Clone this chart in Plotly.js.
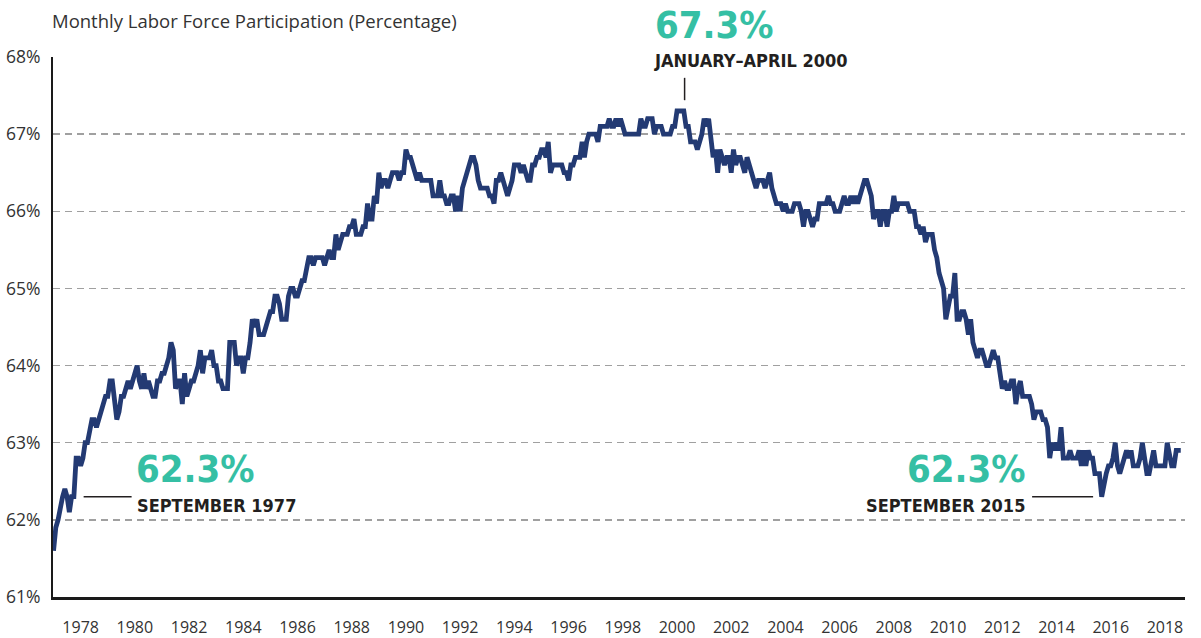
<!DOCTYPE html>
<html>
<head>
<meta charset="utf-8">
<script src="https://cdn.plot.ly/plotly-3.0.1.min.js"></script>
<style>html,body{margin:0;padding:0;background:#fff;}#chart{width:1201px;height:638px;}</style>
</head>
<body>
<div id="chart"></div>
<script>
// Monthly labor force participation rate (%), starting January 1977
const startYear = 1977;
const monthlyRate = [
  61.6, 61.9, 62.0, 62.2, 62.3, 62.4, 62.3, 62.1, 62.3, 62.3, 62.8, 62.8, // 1977
  62.7, 62.8, 63.0, 63.0, 63.2, 63.3, 63.3, 63.2, 63.3, 63.4, 63.5, 63.6, // 1978
  63.6, 63.8, 63.8, 63.5, 63.3, 63.4, 63.6, 63.6, 63.7, 63.8, 63.7, 63.8, // 1979
  63.9, 64.0, 63.8, 63.7, 63.9, 63.7, 63.8, 63.7, 63.6, 63.6, 63.8, 63.8, // 1980
  63.9, 63.9, 64.0, 64.1, 64.3, 64.2, 63.7, 63.8, 63.8, 63.5, 63.9, 63.6, // 1981
  63.7, 63.8, 63.8, 63.9, 64.0, 64.2, 63.9, 64.1, 64.1, 64.1, 64.2, 64.0, // 1982
  64.0, 63.8, 63.8, 63.7, 63.7, 63.7, 64.3, 64.3, 64.3, 64.0, 64.1, 64.1, // 1983
  63.9, 64.1, 64.1, 64.3, 64.6, 64.5, 64.6, 64.4, 64.4, 64.4, 64.5, 64.6, // 1984
  64.7, 64.7, 64.9, 64.9, 64.8, 64.6, 64.6, 64.6, 64.9, 65.0, 65.0, 64.9, // 1985
  64.9, 65.0, 65.1, 65.1, 65.3, 65.4, 65.4, 65.3, 65.4, 65.4, 65.4, 65.4, // 1986
  65.3, 65.4, 65.5, 65.4, 65.4, 65.7, 65.5, 65.6, 65.7, 65.7, 65.7, 65.8, // 1987
  65.8, 65.9, 65.7, 65.7, 65.7, 65.8, 65.8, 66.1, 65.9, 65.9, 66.2, 66.1, // 1988
  66.5, 66.3, 66.4, 66.4, 66.3, 66.4, 66.5, 66.5, 66.5, 66.4, 66.5, 66.5, // 1989
  66.8, 66.7, 66.7, 66.6, 66.5, 66.4, 66.5, 66.4, 66.4, 66.4, 66.4, 66.4, // 1990
  66.2, 66.2, 66.2, 66.4, 66.2, 66.2, 66.1, 66.1, 66.2, 66.2, 66.0, 66.2, // 1991
  66.0, 66.3, 66.4, 66.5, 66.6, 66.7, 66.7, 66.6, 66.4, 66.3, 66.3, 66.3, // 1992
  66.3, 66.2, 66.2, 66.1, 66.4, 66.4, 66.5, 66.4, 66.3, 66.2, 66.3, 66.4, // 1993
  66.6, 66.6, 66.6, 66.5, 66.6, 66.5, 66.4, 66.4, 66.6, 66.6, 66.7, 66.7, // 1994
  66.8, 66.8, 66.7, 66.9, 66.5, 66.6, 66.6, 66.6, 66.6, 66.6, 66.5, 66.5, // 1995
  66.4, 66.6, 66.6, 66.7, 66.7, 66.7, 66.9, 66.7, 66.9, 67.0, 67.0, 67.0, // 1996
  67.0, 66.9, 67.1, 67.1, 67.1, 67.1, 67.2, 67.1, 67.1, 67.2, 67.1, 67.2, // 1997
  67.1, 67.0, 67.0, 67.0, 67.0, 67.0, 67.0, 67.0, 67.2, 67.1, 67.1, 67.2, // 1998
  67.2, 67.2, 67.0, 67.1, 67.1, 67.1, 67.0, 67.0, 67.0, 67.0, 67.1, 67.1, // 1999
  67.3, 67.3, 67.3, 67.3, 67.1, 67.1, 66.9, 66.9, 66.9, 66.8, 66.9, 67.0, // 2000
  67.2, 67.1, 67.2, 66.9, 66.7, 66.8, 66.5, 66.8, 66.7, 66.6, 66.7, 66.7, // 2001
  66.5, 66.8, 66.6, 66.7, 66.7, 66.6, 66.5, 66.7, 66.6, 66.5, 66.4, 66.3, // 2002
  66.4, 66.4, 66.4, 66.3, 66.4, 66.5, 66.3, 66.2, 66.1, 66.1, 66.1, 66.0, // 2003
  66.1, 66.0, 66.0, 66.0, 66.1, 66.1, 66.1, 66.0, 65.8, 66.0, 66.0, 65.9, // 2004
  65.8, 65.9, 65.9, 66.1, 66.1, 66.1, 66.1, 66.2, 66.1, 66.1, 66.0, 66.0, // 2005
  66.0, 66.1, 66.2, 66.1, 66.1, 66.2, 66.1, 66.2, 66.1, 66.2, 66.3, 66.4, // 2006
  66.4, 66.3, 66.2, 65.9, 66.0, 66.0, 65.8, 66.0, 66.0, 65.8, 66.0, 66.0, // 2007
  66.2, 66.0, 66.1, 66.1, 66.1, 66.1, 66.1, 66.0, 66.0, 66.0, 65.8, 65.8, // 2008
  65.7, 65.8, 65.6, 65.7, 65.7, 65.7, 65.5, 65.4, 65.2, 65.1, 65.0, 64.6, // 2009
  64.8, 64.9, 64.9, 65.2, 64.6, 64.6, 64.7, 64.7, 64.6, 64.4, 64.6, 64.3, // 2010
  64.2, 64.1, 64.2, 64.2, 64.1, 64.0, 64.0, 64.1, 64.2, 64.1, 64.1, 63.9, // 2011
  63.7, 63.8, 63.7, 63.7, 63.8, 63.8, 63.5, 63.7, 63.8, 63.6, 63.6, 63.6, // 2012
  63.6, 63.5, 63.3, 63.4, 63.4, 63.4, 63.3, 63.3, 63.2, 62.8, 63.0, 62.9, // 2013
  63.0, 62.9, 63.2, 62.8, 62.8, 62.8, 62.9, 62.8, 62.8, 62.8, 62.9, 62.7, // 2014
  62.9, 62.7, 62.9, 62.8, 62.8, 62.6, 62.6, 62.6, 62.3, 62.5, 62.6, 62.7, // 2015
  62.7, 62.8, 63.0, 62.7, 62.6, 62.7, 62.8, 62.9, 62.8, 62.9, 62.7, 62.7, // 2016
  62.7, 62.8, 63.0, 62.8, 62.6, 62.6, 62.8, 62.9, 62.7, 62.7, 62.7, 62.7, // 2017
  62.7, 63.0, 62.8, 62.7, 62.7, 62.9, 62.9, 62.9                          // 2018
];
const xTickYears = [1978,1980,1982,1984,1986,1988,1990,1992,1994,1996,1998,2000,2002,2004,2006,2008,2010,2012,2014,2016,2018];
const yTickValues = [61,62,63,64,65,66,67,68];
const chartTitle = 'Monthly Labor Force Participation (Percentage)';
const peakValueText = '67.3%';
const peakDateText = 'JANUARY\u2013APRIL 2000';
const low1977ValueText = '62.3%';
const low1977DateText = 'SEPTEMBER 1977';
const low2015ValueText = '62.3%';
const low2015DateText = 'SEPTEMBER 2015';

const xs = monthlyRate.map((_, i) => startYear + i / 12);

const teal = '#35bfa4';
const navy = '#233a73';
const condensed = '"Liberation Sans Narrow", "DejaVu Sans Condensed", "Arial Narrow", sans-serif';
const bigFont = {family: condensed, size: 38, color: teal};
const dateFont = {family: condensed, size: 18, color: '#231f20'};

const trace = {
  x: xs, y: monthlyRate, type: 'scatter', mode: 'lines',
  line: {color: navy, width: 4.8, shape: 'linear'},
  hoverinfo: 'skip'
};

// paper y for a value v on the 61-68 axis
const py = v => (v - 61) / 7;

const layout = {
  width: 1201, height: 638,
  margin: {l: 53, r: 16, t: 57, b: 41, pad: 0},
  paper_bgcolor: '#ffffff', plot_bgcolor: '#ffffff',
  showlegend: false,
  title: {
    text: chartTitle, x: 52 / 1201, xanchor: 'left', y: 1 - 22 / 638, yanchor: 'middle',
    font: {family: '"Open Sans", sans-serif', size: 18.5, color: '#333333'}
  },
  xaxis: {
    range: [1976.98, 2018.74], tickvals: xTickYears, ticktext: xTickYears.map(String),
    showgrid: false, zeroline: false, showline: true, linecolor: '#1a1a1a', linewidth: 2.5,
    ticks: 'outside', ticklen: 14, tickcolor: 'rgba(0,0,0,0)',
    tickfont: {family: '"Open Sans", sans-serif', size: 16, color: '#333333'}
  },
  yaxis: {
    range: [61, 68], tickvals: yTickValues, ticktext: yTickValues.map(v => v + '%'),
    showgrid: true, gridcolor: '#a0a0a0', gridwidth: 1.4, griddash: '7px,5px',
    zeroline: false, showline: true, linecolor: '#1a1a1a', linewidth: 2,
    ticks: 'outside', ticklen: 7, tickcolor: 'rgba(0,0,0,0)',
    tickfont: {family: '"Open Sans", sans-serif', size: 17.5, color: '#333333'}
  },
  annotations: [
    {x: 1999.12, y: py(68.42), xref: 'x', yref: 'paper', xanchor: 'left', yanchor: 'middle', showarrow: false,
     text: '<b>' + peakValueText + '</b>', font: bigFont},
    {x: 1999.0, y: py(67.95), xref: 'x', yref: 'paper', xanchor: 'left', yanchor: 'middle', showarrow: false,
     text: '<b>' + peakDateText + '</b>', font: dateFont, bgcolor: '#ffffff', borderpad: 3},
    {x: 1979.98, y: py(62.66), xref: 'x', yref: 'paper', xanchor: 'left', yanchor: 'middle', showarrow: false,
     text: '<b>' + low1977ValueText + '</b>', font: bigFont},
    {x: 1980.0, y: py(62.18), xref: 'x', yref: 'paper', xanchor: 'left', yanchor: 'middle', showarrow: false,
     text: '<b>' + low1977DateText + '</b>', font: dateFont},
    {x: 2012.95, y: py(62.66), xref: 'x', yref: 'paper', xanchor: 'right', yanchor: 'middle', showarrow: false,
     text: '<b>' + low2015ValueText + '</b>', font: bigFont},
    {x: 2012.92, y: py(62.18), xref: 'x', yref: 'paper', xanchor: 'right', yanchor: 'middle', showarrow: false,
     text: '<b>' + low2015DateText + '</b>', font: dateFont}
  ],
  shapes: [
    {type: 'line', xref: 'x', yref: 'y', x0: 2000.28, x1: 2000.28, y0: 67.73, y1: 67.44, line: {color: '#231f20', width: 1.5}},
    {type: 'line', xref: 'x', yref: 'y', x0: 1978.11, x1: 1979.88, y0: 62.3, y1: 62.3, line: {color: '#231f20', width: 1.5}},
    {type: 'line', xref: 'x', yref: 'y', x0: 2013.1, x1: 2015.35, y0: 62.3, y1: 62.3, line: {color: '#231f20', width: 1.5}}
  ]
};

Plotly.newPlot('chart', [trace], layout, {displayModeBar: false, staticPlot: true});
</script>
</body>
</html>
